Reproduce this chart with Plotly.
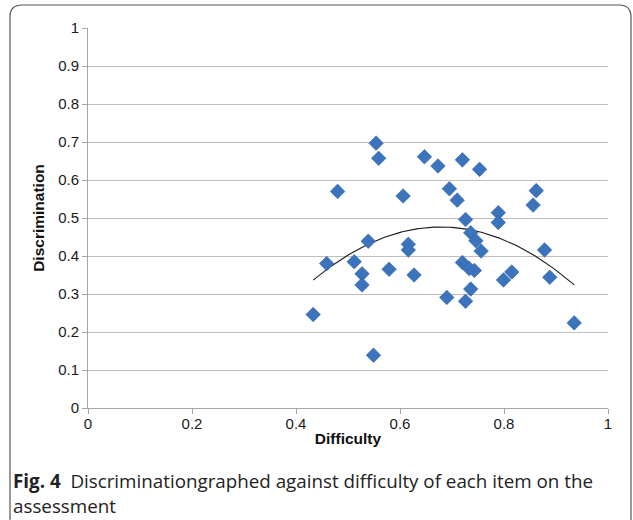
import numpy as np
import plotly.graph_objects as go

# Data
difficulty = [0.433, 0.459, 0.480, 0.512, 0.527, 0.527, 0.539, 0.549, 0.554, 0.559,
              0.579, 0.606, 0.616, 0.616, 0.627, 0.647, 0.673, 0.690, 0.695, 0.710,
              0.720, 0.726, 0.720, 0.733, 0.743, 0.736, 0.746, 0.756, 0.736, 0.726,
              0.753, 0.789, 0.789, 0.799, 0.815, 0.856, 0.862, 0.878, 0.888, 0.935]
discrimination = [0.246, 0.380, 0.570, 0.385, 0.353, 0.324, 0.439, 0.139, 0.697, 0.657,
                  0.365, 0.558, 0.431, 0.416, 0.350, 0.661, 0.637, 0.291, 0.577, 0.547,
                  0.653, 0.496, 0.383, 0.367, 0.362, 0.461, 0.440, 0.413, 0.313, 0.281,
                  0.628, 0.514, 0.488, 0.337, 0.358, 0.534, 0.572, 0.416, 0.344, 0.224]

x_ticks = [0, 0.2, 0.4, 0.6, 0.8, 1]
x_tick_labels = ["0", "0.2", "0.4", "0.6", "0.8", "1"]
y_ticks = [0, 0.1, 0.2, 0.3, 0.4, 0.5, 0.6, 0.7, 0.8, 0.9, 1]
y_tick_labels = ["0", "0.1", "0.2", "0.3", "0.4", "0.5", "0.6", "0.7", "0.8", "0.9", "1"]

caption_bold = "Fig. 4"
caption_line1 = "Discriminationgraphed against difficulty of each item on the"
caption_line2 = "assessment"

# Polynomial (order 2) trendline, as in the spreadsheet chart
coef = np.polyfit(difficulty, discrimination, 2)
tx = np.linspace(min(difficulty), max(difficulty), 200)
ty = np.polyval(coef, tx)

W, H = 633, 520
L, R, T, B = 88, 25, 28, 112
pw, ph = W - L - R, H - T - B


def px(x):
    return (x - L) / pw


def py(y):
    return (H - B - y) / ph


fig = go.Figure()
fig.add_trace(go.Scatter(x=tx, y=ty, mode="lines",
                         line=dict(color="#1a1a1a", width=1.1),
                         hoverinfo="skip", showlegend=False))
fig.add_trace(go.Scatter(x=difficulty, y=discrimination, mode="markers",
                         marker=dict(symbol="diamond", size=11.2, color="#3B74BC",
                                     line=dict(width=0.6, color="#2F62A3")),
                         showlegend=False))

# rounded frame around figure + caption
x0, x1, y0, y1, r = 10, 631, 5, 535, 12
path = (f"M {px(x0 + r)},{py(y0)} L {px(x1 - r)},{py(y0)} "
        f"Q {px(x1)},{py(y0)} {px(x1)},{py(y0 + r)} "
        f"L {px(x1)},{py(y1 - r)} Q {px(x1)},{py(y1)} {px(x1 - r)},{py(y1)} "
        f"L {px(x0 + r)},{py(y1)} Q {px(x0)},{py(y1)} {px(x0)},{py(y1 - r)} "
        f"L {px(x0)},{py(y0 + r)} Q {px(x0)},{py(y0)} {px(x0 + r)},{py(y0)} Z")
fig.add_shape(type="path", path=path, xref="paper", yref="paper",
              line=dict(color="#555555", width=1.2), layer="above")

cap_font = dict(family="Open Sans, Noto Sans, sans-serif", size=18.8, color="#222222")
fig.add_annotation(x=px(11), y=py(481), xref="paper", yref="paper",
                   xanchor="left", yanchor="middle", showarrow=False,
                   text=f"<b>{caption_bold}</b>  {caption_line1}", font=cap_font)
fig.add_annotation(x=px(11), y=py(506), xref="paper", yref="paper",
                   xanchor="left", yanchor="middle", showarrow=False,
                   text=caption_line2, font=cap_font)

axis_font = dict(family="Liberation Sans, Arial, sans-serif", size=15, color="#1a1a1a")
title_font = dict(family="Liberation Sans, Arial, sans-serif", size=15.5, color="#111111")
fig.update_xaxes(range=[0, 1], tickvals=x_ticks, ticktext=x_tick_labels,
                 showgrid=False, zeroline=False, showline=True, linecolor="#A6A6A6",
                 linewidth=1, ticks="outside", ticklen=5, tickcolor="#A6A6A6",
                 tickfont=axis_font, ticklabelstandoff=-3,
                 title=dict(text="<b>Difficulty</b>", standoff=2, font=title_font))
fig.update_yaxes(range=[0, 1], tickvals=y_ticks, ticktext=y_tick_labels,
                 showgrid=True, gridcolor="#BFBFBF", gridwidth=1, zeroline=False,
                 showline=True, linecolor="#A6A6A6", linewidth=1,
                 ticks="outside", ticklen=5, tickcolor="#A6A6A6", tickfont=axis_font,
                 title=dict(text="<b>Discrimination</b>", standoff=9, font=title_font))
fig.update_layout(width=W, height=H, margin=dict(l=L, r=R, t=T, b=B),
                  paper_bgcolor="white", plot_bgcolor="white")

fig.write_html("out.html")
